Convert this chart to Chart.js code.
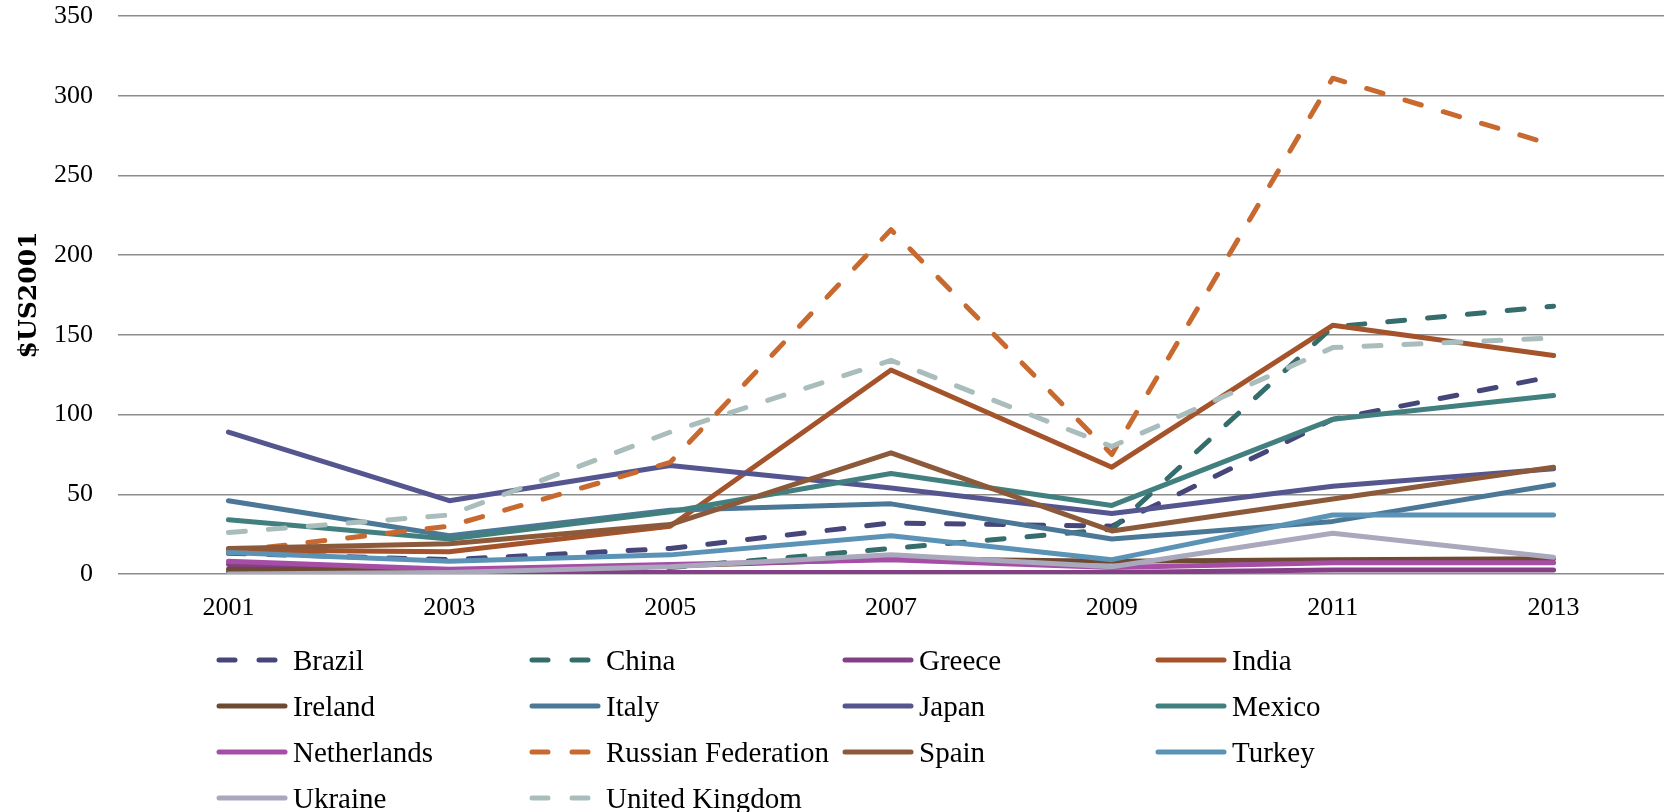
<!DOCTYPE html>
<html>
<head>
<meta charset="utf-8">
<script src="https://cdn.jsdelivr.net/npm/chart.js@4/dist/chart.umd.min.js"></script>
<style>
  body { margin: 0; background: #fff; }
  #wrap { position: relative; width: 1674px; height: 812px; }
  #legend {
    position: absolute; left: 216px; top: 637px;
    display: grid; grid-template-columns: repeat(4, 313px); grid-auto-rows: 46px;
    font-family: "Liberation Serif", serif; font-size: 29px; color: #000;
  }
  .item { display: flex; align-items: center; white-space: nowrap; }
  .item svg { margin-right: 5px; flex: none; }
</style>
</head>
<body>
<div id="wrap">
  <canvas id="chart" width="1674" height="812"></canvas>
  <div id="legend"></div>
</div>
<script>
const years = ['2001', '2003', '2005', '2007', '2009', '2011', '2013'];
const yTicks = [0, 50, 100, 150, 200, 250, 300, 350];

const countries = ['Brazil', 'China', 'Greece', 'India', 'Ireland', 'Italy', 'Japan',
  'Mexico', 'Netherlands', 'Russian Federation', 'Spain', 'Turkey', 'Ukraine', 'United Kingdom'];

const brazil      = [13, 9, 16, 32, 30, 97, 124];
const china       = [1, 1, 4, 16, 28, 155, 168];
const greece      = [6, 1, 1, 1, 1, 2.5, 2.5];
const india       = [15, 14, 30, 128, 67, 156, 137];
const ireland     = [3, 2, 5, 9.5, 8, 9, 9.5];
const italy       = [46, 24, 40, 44, 22, 33, 56];
const japan       = [89, 46, 68, 54, 38, 55, 66];
const mexico      = [34, 22, 39, 63, 43, 97, 112];
const netherlands = [8, 3, 6, 9, 4, 7, 7];
const russia      = [14, 30, 70, 216, 75, 311, 269];
const spain       = [16, 19, 31, 76, 27, 47, 67];
const turkey      = [13.5, 8, 12, 24, 9, 37, 37];
const ukraine     = [0, 1, 4.5, 12, 4.5, 25.5, 10.5];
const uk          = [26, 37, 89, 134, 80, 142, 148];

const seriesValues = [brazil, china, greece, india, ireland, italy, japan,
  mexico, netherlands, russia, spain, turkey, ukraine, uk];
const colors = ['#46467a', '#356c6c', '#853f86', '#a5532a', '#6e4a33', '#4a7896', '#55558f',
  '#428080', '#a64ea6', '#c8692f', '#8c5a3a', '#5b93b7', '#a9a8bd', '#a9bdbc'];
const dashed = [true, true, false, false, false, false, false,
  false, false, true, false, false, false, true];

const datasets = countries.map((name, i) => ({
  label: name,
  data: seriesValues[i],
  borderColor: colors[i],
  backgroundColor: colors[i],
  borderWidth: 5,
  borderDash: dashed[i] ? [17, 23] : [],
  borderCapStyle: 'round',
  borderJoinStyle: 'round',
  pointRadius: 0,
  tension: 0,
  fill: false,
  order: countries.length - i // later series on top, like the original
}));

new Chart(document.getElementById('chart'), {
  type: 'line',
  data: { labels: years, datasets: datasets },
  options: {
    responsive: false,
    animation: false,
    layout: { padding: { top: 16, right: 10, bottom: 178, left: 0 } },
    scales: {
      x: {
        offset: true,
        grid: { display: false, drawTicks: false },
        border: { display: false },
        ticks: { color: '#000', padding: 19, font: { family: 'Liberation Serif', size: 26 } },
        afterFit: s => { s.height = 60; }
      },
      y: {
        min: 0,
        max: 350,
        afterBuildTicks: s => { s.ticks = yTicks.map(v => ({ value: v })); },
        grid: { color: '#8c8c8c', lineWidth: 1.5, drawTicks: false },
        border: { display: false },
        ticks: { color: '#000', padding: 25, font: { family: 'Liberation Serif', size: 26 } },
        title: {
          display: true,
          text: '$US2001',
          color: '#000',
          padding: { top: 14, bottom: 0 },
          font: { family: 'DejaVu Serif', size: 25, weight: 'bold' }
        },
        afterFit: s => { s.width = 118; s.paddingTop = 0; s.paddingBottom = 0; }
      }
    },
    plugins: {
      legend: { display: false },
      tooltip: { enabled: false }
    }
  }
});

// legend in four fixed columns, as in the original
const legend = document.getElementById('legend');
countries.forEach((name, i) => {
  const item = document.createElement('div');
  item.className = 'item';
  const dash = dashed[i] ? ' stroke-dasharray="16 24"' : '';
  item.innerHTML = '<svg width="72" height="10"><line x1="3" y1="5" x2="69" y2="5" stroke="' +
    colors[i] + '" stroke-width="5" stroke-linecap="round"' + dash + '/></svg><span>' + name + '</span>';
  legend.appendChild(item);
});
</script>
</body>
</html>
